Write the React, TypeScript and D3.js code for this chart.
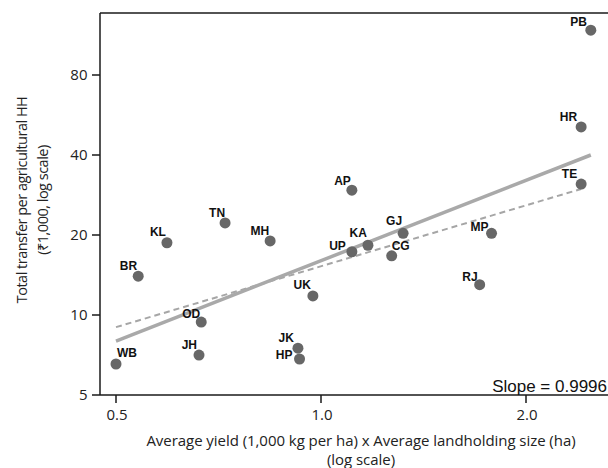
import React from "react";
import * as d3 from "d3";

const states = ["PB", "HR", "TE", "AP", "TN", "KL", "MH", "KA", "GJ", "UP", "CG", "MP", "BR", "RJ", "UK", "OD", "JH", "JK", "HP", "WB"];
const yieldXland = [2.49, 2.41, 2.41, 1.11, 0.723, 0.594, 0.842, 1.172, 1.32, 1.11, 1.27, 1.78, 0.539, 1.71, 0.973, 0.667, 0.662, 0.925, 0.93, 0.5];
const transfer = [118, 51, 31.1, 29.5, 22.2, 18.7, 19.0, 18.3, 20.3, 17.3, 16.7, 20.3, 14.0, 13.0, 11.8, 9.41, 7.07, 7.5, 6.83, 6.54];

const fitSolidX = [0.5, 2.49];
const fitSolidY = [7.98, 40];
const fitDashedX = [0.5, 2.41];
const fitDashedY = [9.0, 29.8];

const xTicks = [0.5, 1.0, 2.0];
const xTickLabels = ["0.5", "1.0", "2.0"];
const yTicks = [5, 10, 20, 40, 80];
const yTickLabels = ["5", "10", "20", "40", "80"];

const slopeText = "Slope = 0.9996";
const xTitle = ["Average yield (1,000 kg per ha) x Average landholding size (ha)", "(log scale)"];
const yTitle = ["Total transfer per agricultural HH", "(₹1,000, log scale)"];

// label placement: [dx, dy, anchor]
const labelPlacement: Record<string, [number, number, string]> = {
  PB: [-4, -4, "end"], HR: [-4, -6, "end"], TE: [-4, -6, "end"], AP: [-1, -5, "end"],
  TN: [0, -6, "end"], KL: [-1, -7, "end"], MH: [-1, -6, "end"], KA: [-1, -8, "end"],
  GJ: [-1, -8, "end"], UP: [-6, -2, "end"], CG: [0, -6, "start"], MP: [-3, -2, "end"],
  BR: [-1, -6, "end"], RJ: [-2, -4, "end"], UK: [-2, -7, "end"], OD: [-1, -4, "end"],
  JH: [-2, -6, "end"], JK: [-4, -6, "end"], HP: [-7, 0, "end"], WB: [1, -7, "start"],
};

export default function App() {
  const W = 608, H = 468;
  const left = 100, right = 608, top = 13, bottom = 395;
  const x = d3.scaleLog().domain([0.5, 2]).range([116, 526]);
  const y = d3.scaleLog().domain([5, 80]).range([395, 75]);
  const line = d3.line<[number, number]>().x(d => x(d[0])).y(d => y(d[1]));
  const solid = fitSolidX.map((v, i) => [v, fitSolidY[i]] as [number, number]);
  const dashed = fitDashedX.map((v, i) => [v, fitDashedY[i]] as [number, number]);
  const axisColor = "#1a1a1a";
  const tickFont = "'Open Sans', 'Noto Sans', sans-serif";
  const lblFont = "'Liberation Sans', Arial, sans-serif";

  return (
    <svg width={W} height={H} style={{ position: "absolute", left: 0, top: 0, background: "#fff" }}>
      <path d={line(dashed) || ""} fill="none" stroke="#a6a6a6" strokeWidth={2} strokeDasharray="6,4" />
      <path d={line(solid) || ""} fill="none" stroke="#a9a9a9" strokeWidth={3.5} />
      {states.map((s, i) => {
        const px = x(yieldXland[i]);
        const py = y(transfer[i]);
        const [dx, dy, anchor] = labelPlacement[s];
        return (
          <g key={s}>
            <circle cx={px} cy={py} r={5.5} fill="#676767" />
            <text x={px + dx} y={py + dy} textAnchor={anchor} fontFamily={lblFont} fontWeight="bold" fontSize={12} fill="#111">{s}</text>
          </g>
        );
      })}
      {/* frame */}
      <line x1={left} x2={right} y1={top} y2={top} stroke={axisColor} strokeWidth={1.5} />
      <line x1={left} x2={left} y1={top} y2={bottom} stroke={axisColor} strokeWidth={1.5} />
      <line x1={left} x2={right} y1={bottom} y2={bottom} stroke={axisColor} strokeWidth={1.5} />
      {yTicks.map((t, i) => (
        <g key={"y" + t}>
          <line x1={left - 8} x2={left} y1={y(t)} y2={y(t)} stroke={axisColor} strokeWidth={1.5} />
          <text x={left - 12.5} y={y(t)} dy="0.36em" textAnchor="end" fontFamily={tickFont} fontSize={15} fill="#222">{yTickLabels[i]}</text>
        </g>
      ))}
      {xTicks.map((t, i) => (
        <g key={"x" + t}>
          <line x1={x(t)} x2={x(t)} y1={bottom} y2={bottom + 8} stroke={axisColor} strokeWidth={1.5} />
          <text x={x(t) + 1} y={420} textAnchor="middle" fontFamily={tickFont} fontSize={15} fill="#222">{xTickLabels[i]}</text>
        </g>
      ))}
      <text x={607} y={392} textAnchor="end" fontFamily={lblFont} fontSize={17} fill="#111">{slopeText}</text>
      <text x={361} y={446} textAnchor="middle" fontFamily={tickFont} fontSize={15} letterSpacing={-0.05} fill="#222">{xTitle[0]}</text>
      <text x={361} y={465} textAnchor="middle" fontFamily={tickFont} fontSize={15} letterSpacing={-0.05} fill="#222">{xTitle[1]}</text>
      <g transform="translate(27,200) rotate(-90)">
        <text x={0} y={0} textAnchor="middle" fontFamily={tickFont} fontSize={14.5} letterSpacing={-0.5} fill="#222">{yTitle[0]}</text>
        <text x={0} y={21} textAnchor="middle" fontFamily={tickFont} fontSize={14.5} letterSpacing={-0.5} fill="#222">{yTitle[1]}</text>
      </g>
    </svg>
  );
}
